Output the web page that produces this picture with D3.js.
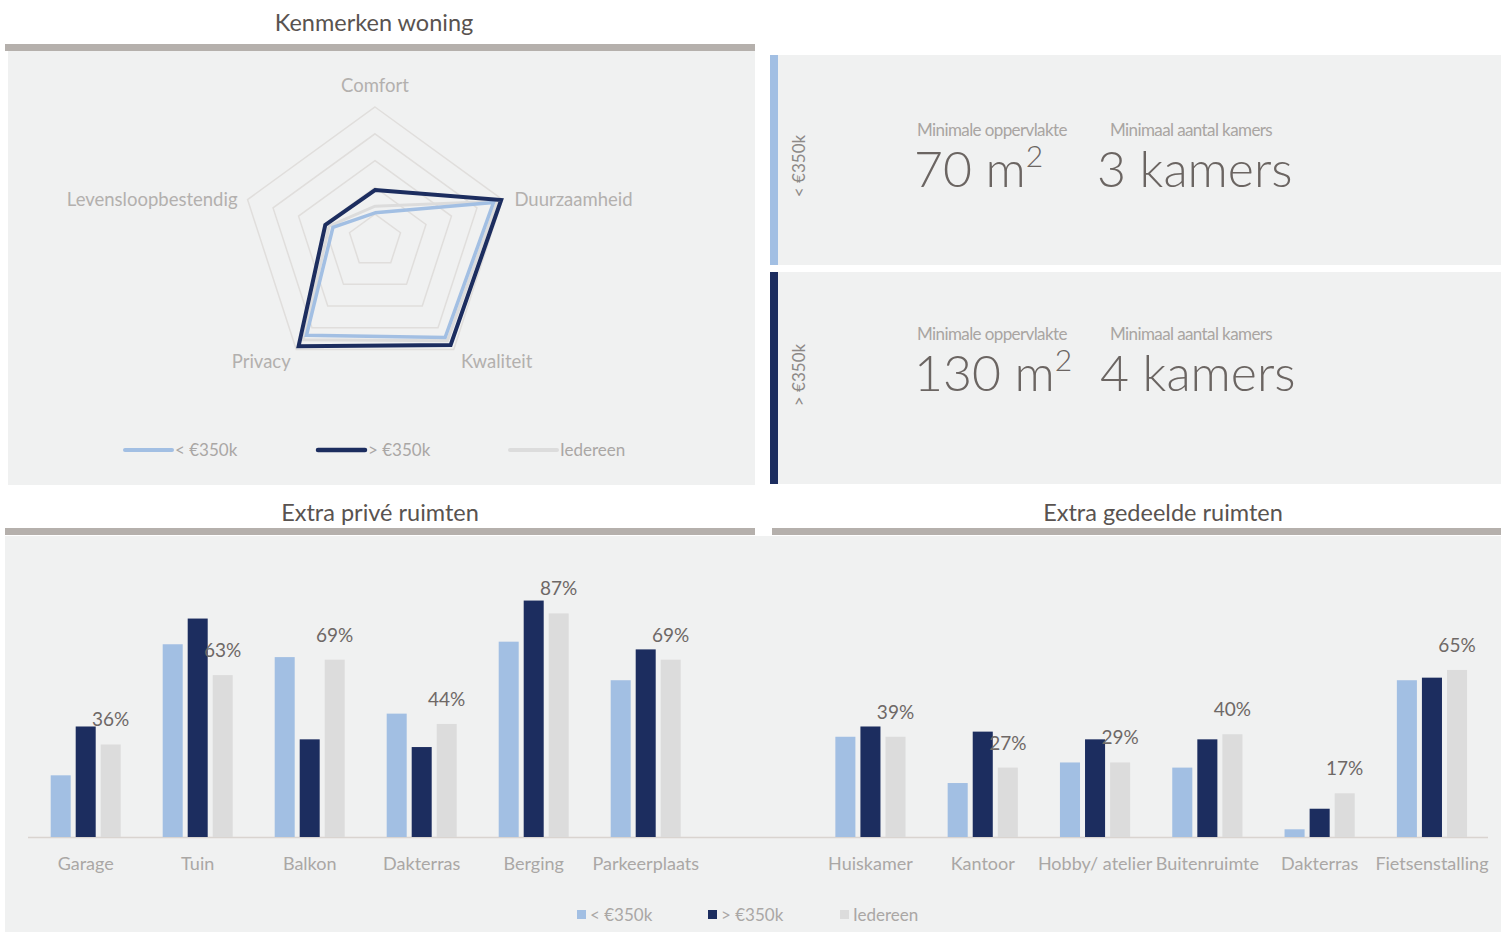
<!DOCTYPE html>
<html>
<head>
<meta charset="utf-8">
<script src="https://cdn.jsdelivr.net/npm/d3@7"></script>
<style>
  html, body { margin: 0; padding: 0; background: #ffffff; }
  svg { display: block; font-family: Lato, "Open Sans", sans-serif; }
</style>
</head>
<body>
<svg id="chart" width="1501" height="934"></svg>
<script>
// ---- Data ----
const seriesNames = ["< €350k", "> €350k", "Iedereen"];
const seriesColors = ["#a2bfe3", "#1c2d5f", "#dcdcdc"];

// Radar: characteristics of the home (score 0-100)
const radarAxes = ["Comfort", "Duurzaamheid", "Kwaliteit", "Privacy", "Levensloopbestendig"];
const radarLow = [21, 93, 89, 87, 33];
const radarHigh = [38, 99, 96, 97, 39];
const radarAll = [26, 96, 92, 91, 36];

// Minimum requirements per price segment
const segments = ["< €350k", "> €350k"];
const minArea = ["70", "130"];
const minRooms = ["3 kamers", "4 kamers"];

// Extra private rooms (%)
const privateCats = ["Garage", "Tuin", "Balkon", "Dakterras", "Berging", "Parkeerplaats"];
const privateLow = [24, 75, 70, 48, 76, 61];
const privateHigh = [43, 85, 38, 35, 92, 73];
const privateAll = [36, 63, 69, 44, 87, 69];

// Extra shared rooms (%)
const sharedCats = ["Huiskamer", "Kantoor", "Hobby/ atelier", "Buitenruimte", "Dakterras", "Fietsenstalling"];
const sharedLow = [39, 21, 29, 27, 3, 61];
const sharedHigh = [43, 41, 38, 38, 11, 62];
const sharedAll = [39, 27, 29, 40, 17, 65];

// ---- Layout ----
const svg = d3.select("#chart");
const panelFill = "#f0f1f1";
const titleColor = "#595350";
const barGrey = "#b5b0ac";
const labelGrey = "#aaa7a5";

// Panel backgrounds
svg.append("rect").attr("x", 8).attr("y", 51).attr("width", 747).attr("height", 434).attr("fill", panelFill);
svg.append("rect").attr("x", 770).attr("y", 55).attr("width", 731).attr("height", 210).attr("fill", panelFill);
svg.append("rect").attr("x", 770).attr("y", 272).attr("width", 731).attr("height", 212).attr("fill", panelFill);
svg.append("rect").attr("x", 5).attr("y", 536).attr("width", 1496).attr("height", 396).attr("fill", panelFill);

// Section titles with rule beneath
function sectionTitle(text, cx, y, x0, x1, ruleY) {
  svg.append("text").attr("x", cx).attr("y", y).attr("text-anchor", "middle")
    .attr("font-size", 23.5).attr("fill", titleColor).text(text);
  svg.append("rect").attr("x", x0).attr("y", ruleY).attr("width", x1 - x0).attr("height", 7).attr("fill", barGrey);
}
sectionTitle("Kenmerken woning", 374, 31, 5, 755, 44);
sectionTitle("Extra privé ruimten", 380, 521, 5, 755, 528);
sectionTitle("Extra gedeelde ruimten", 1163, 521, 772, 1501, 528);

// ---- Radar chart ----
const cx = 375, cy = 241, R = 134;
const rScale = d3.scaleLinear().domain([0, 100]).range([0, R]);
const angle = i => (i * 2 * Math.PI) / radarAxes.length;
const pt = (i, v) => [cx + rScale(v) * Math.sin(angle(i)), cy - rScale(v) * Math.cos(angle(i))];

const radar = svg.append("g");
[20, 40, 60, 80, 100].forEach(level => {
  radar.append("path")
    .attr("d", d3.line()(radarAxes.map((_, i) => pt(i, level))) + "Z")
    .attr("fill", "none").attr("stroke", "#e0dedc").attr("stroke-width", 1.5);
});

const radarLine = vals => d3.line()(vals.map((v, i) => pt(i, v))) + "Z";
[[radarAll, 2, 3], [radarLow, 0, 3.5], [radarHigh, 1, 4]].forEach(([vals, s, w]) => {
  radar.append("path").attr("d", radarLine(vals))
    .attr("fill", "none").attr("stroke", seriesColors[s]).attr("stroke-width", w)
    .attr("stroke-linejoin", "miter");
});

// Axis labels around the radar
const labelPos = [
  { dx: 0, dy: -15, anchor: "middle" },
  { dx: 12, dy: 6, anchor: "start" },
  { dx: 43, dy: 19, anchor: "middle" },
  { dx: -35, dy: 19, anchor: "middle" },
  { dx: -10, dy: 6, anchor: "end" }
];
radarAxes.forEach((name, i) => {
  const [x, y] = pt(i, 100);
  radar.append("text").attr("x", x + labelPos[i].dx).attr("y", y + labelPos[i].dy)
    .attr("text-anchor", labelPos[i].anchor).attr("font-size", 18.5).attr("fill", "#b3b0ae").text(name);
});

// Radar legend
const radarLegendX = [125, 318, 510];
seriesNames.forEach((name, i) => {
  const x = radarLegendX[i];
  svg.append("line").attr("x1", x).attr("x2", x + 47).attr("y1", 450).attr("y2", 450)
    .attr("stroke", seriesColors[i]).attr("stroke-width", i === 1 ? 4.5 : 4).attr("stroke-linecap", "round");
  svg.append("text").attr("x", x + 50).attr("y", 456).attr("font-size", 17).attr("fill", labelGrey).text(name);
});

// ---- Minimum requirement cards ----
const cardTop = [55, 272];
const cardH = [210, 212];
segments.forEach((seg, i) => {
  const top = cardTop[i];
  svg.append("rect").attr("x", 770).attr("y", top).attr("width", 8).attr("height", cardH[i])
    .attr("fill", seriesColors[i]);
  const midY = top + (i === 0 ? 111 : 103);
  svg.append("text").attr("transform", `translate(805,${midY}) rotate(-90)`)
    .attr("text-anchor", "middle").attr("font-size", 17).attr("fill", "#8d8987").text(seg);
  const labelY = top + (i === 0 ? 81 : 68);
  const valueY = top + (i === 0 ? 132 : 119);
  svg.append("text").attr("x", 917).attr("y", labelY).attr("font-size", 17)
    .attr("fill", "#a9a5a2").attr("letter-spacing", -0.6).text("Minimale oppervlakte");
  svg.append("text").attr("x", 1110).attr("y", labelY).attr("font-size", 17)
    .attr("fill", "#a9a5a2").attr("letter-spacing", -0.6).text("Minimaal aantal kamers");
  const area = svg.append("text").attr("x", 914).attr("y", valueY).attr("font-size", 50).attr("font-weight", 300)
    .attr("fill", "#6b6562");
  area.append("tspan").text(minArea[i] + " m");
  area.append("tspan").attr("font-size", 30).attr("dy", -20).text("2");
  svg.append("text").attr("x", i === 0 ? 1097 : 1100).attr("y", valueY).attr("font-size", 50).attr("font-weight", 300)
    .attr("fill", "#6b6562").text(minRooms[i]);
});

// ---- Grouped bar charts ----
const y = d3.scaleLinear().domain([0, 100]).range([837, 580]);

// Common baseline under both charts
svg.append("line").attr("x1", 28).attr("x2", 1488).attr("y1", y(0) + 0.5).attr("y2", y(0) + 0.5)
  .attr("stroke", "#d9d4d0").attr("stroke-width", 1.5);

function barChart(cats, low, high, all, range) {
  const g = svg.append("g");
  const x0 = d3.scaleBand().domain(cats).range(range).paddingInner(0.375).paddingOuter(0.1875);
  const x1 = d3.scaleBand().domain(seriesNames).range([0, x0.bandwidth()]).paddingInner(0.2);
  const rows = cats.map((c, i) => ({ cat: c, vals: [low[i], high[i], all[i]] }));

  const groups = g.selectAll("g.grp").data(rows).join("g")
    .attr("transform", d => `translate(${x0(d.cat)},0)`);
  groups.selectAll("rect").data(d => d.vals.map((v, s) => ({ v, s }))).join("rect")
    .attr("x", d => x1(seriesNames[d.s]))
    .attr("width", x1.bandwidth())
    .attr("y", d => y(d.v))
    .attr("height", d => y(0) - y(d.v))
    .attr("fill", d => seriesColors[d.s]);

  // Value label for the "Iedereen" bar
  groups.append("text")
    .attr("x", x1("Iedereen") + x1.bandwidth() / 2)
    .attr("y", d => y(d.vals[2]) - 18)
    .attr("text-anchor", "middle").attr("font-size", 19).attr("fill", "#6e6866")
    .text(d => d.vals[2] + "%");

  // Category labels
  const axis = d3.axisBottom(x0).tickSize(0).tickPadding(0);
  const ax = g.append("g").attr("transform", `translate(0,${y(0)})`).call(axis);
  ax.select(".domain").remove();
  ax.selectAll("text").attr("dy", null).attr("y", 33).attr("font-size", 18)
    .attr("font-family", "Lato, 'Open Sans', sans-serif").attr("fill", labelGrey);
}
barChart(privateCats, privateLow, privateHigh, privateAll, [29.7, 701.7]);
barChart(sharedCats, sharedLow, sharedHigh, sharedAll, [814.3, 1488.1]);

// Shared legend for the bar charts
const barLegendX = [577, 708, 840];
seriesNames.forEach((name, i) => {
  const x = barLegendX[i];
  svg.append("rect").attr("x", x).attr("y", 910).attr("width", 9).attr("height", 9).attr("fill", seriesColors[i]);
  svg.append("text").attr("x", x + 13).attr("y", 921).attr("font-size", 17).attr("fill", labelGrey).text(name);
});
</script>
</body>
</html>
